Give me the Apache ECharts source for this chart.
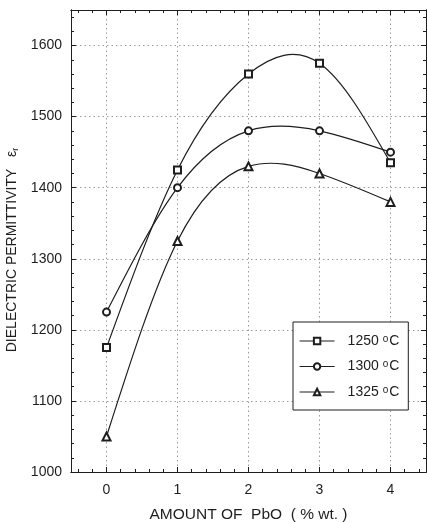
<!DOCTYPE html>
<html>
<head>
<meta charset="utf-8">
<script src="https://cdn.jsdelivr.net/npm/echarts@6/dist/echarts.min.js"></script>
<style>
html,body{margin:0;padding:0;background:#fff;}
#c{width:427px;height:523px;}
</style>
</head>
<body>
<div id="c"></div>
<script>
const pbo = [0, 1, 2, 3, 4];
const eps1250 = [1175, 1425, 1560, 1575, 1435];
const eps1300 = [1225, 1400, 1480, 1480, 1450];
const eps1325 = [1050, 1325, 1430, 1420, 1380];
const seriesNames = ['1250', '1300', '1325'];
const xMajor = [0, 1, 2, 3, 4];
const xMinor = [-0.4, -0.2, 0.2, 0.4, 0.6, 0.8, 1.2, 1.4, 1.6, 1.8, 2.2, 2.4, 2.6, 2.8, 3.2, 3.4, 3.6, 3.8, 4.2, 4.4];
const yMajor = [1000, 1100, 1200, 1300, 1400, 1500, 1600];
const yMinor = [1020, 1040, 1060, 1080, 1120, 1140, 1160, 1180, 1220, 1240, 1260, 1280, 1320, 1340, 1360, 1380, 1420, 1440, 1460, 1480, 1520, 1540, 1560, 1580, 1620, 1640];
const xMin = -0.5, xMax = 4.5, yMin = 1000, yMax = 1650;

const ink = '#1e1e1e';
const font = "'Liberation Sans', Arial, sans-serif";

function xAx(position, values, len, opts) {
  return Object.assign({
    type: 'value', position: position, min: xMin, max: xMax,
    axisLine: { show: true, onZero: false, lineStyle: { color: ink, width: 1 } },
    axisTick: { show: true, inside: true, length: len, customValues: values, lineStyle: { color: ink } },
    axisLabel: { show: false, customValues: values },
    splitLine: { show: false }
  }, opts || {});
}
function yAx(position, values, len, opts) {
  return Object.assign({
    type: 'value', position: position, min: yMin, max: yMax,
    axisLine: { show: true, onZero: false, lineStyle: { color: ink, width: 1 } },
    axisTick: { show: true, inside: true, length: len, customValues: values, lineStyle: { color: ink } },
    axisLabel: { show: false, customValues: values },
    splitLine: { show: false }
  }, opts || {});
}

const xAxes = [
  xAx('bottom', xMajor, 5, {
    axisLabel: { show: true, customValues: xMajor, margin: 11, fontSize: 14, color: ink, fontFamily: font,
      formatter: function (v) { return String(v); } },
    splitLine: { show: true, lineStyle: { color: '#9a9a9a', type: [1.5, 3], width: 1 } },
    name: 'AMOUNT OF  PbO  ( % wt. )', nameLocation: 'middle', nameGap: 35,
    nameTextStyle: { fontSize: 15.5, color: ink, fontFamily: font }
  }),
  xAx('bottom', xMinor, 3),
  xAx('top', xMajor, 5),
  xAx('top', xMinor, 3)
];
const yAxes = [
  yAx('left', yMajor, 5, {
    axisLabel: { show: true, customValues: yMajor, margin: 9, fontSize: 14, color: ink, fontFamily: font,
      formatter: function (v) { return String(v); } },
    splitLine: { show: true, lineStyle: { color: '#9a9a9a', type: [1.5, 3], width: 1 } },
    name: '{a|DIELECTRIC PERMITTIVITY   ε}{s|r}', nameLocation: 'middle', nameGap: 49, nameRotate: 90,
    nameTextStyle: {
      padding: [0, 18, 0, 0],
      rich: {
        a: { fontSize: 14, color: ink, fontFamily: font },
        s: { fontSize: 9, color: ink, fontFamily: font, verticalAlign: 'bottom', padding: [6, 0, 0, 0] }
      }
    }
  }),
  yAx('left', yMinor, 3),
  yAx('right', yMajor, 5),
  yAx('right', yMinor, 3)
];

const symbols = ['emptyRect', 'emptyCircle', 'emptyTriangle'];
const sizes = [7, 7, 8];
const allData = [eps1250, eps1300, eps1325];

// Natural cubic spline through (xs, ys), returned as Bezier segments in data space
function splineSegments(xs, ys) {
  const n = xs.length;
  const h = [];
  for (let i = 0; i < n - 1; i++) h.push(xs[i + 1] - xs[i]);
  const M = new Array(n).fill(0);
  if (n > 2) {
    const a = [], b = [], c = [], d = [];
    for (let i = 1; i < n - 1; i++) {
      a.push(h[i - 1]);
      b.push(2 * (h[i - 1] + h[i]));
      c.push(h[i]);
      d.push(6 * ((ys[i + 1] - ys[i]) / h[i] - (ys[i] - ys[i - 1]) / h[i - 1]));
    }
    const m = b.length;
    for (let i = 1; i < m; i++) {
      const w = a[i] / b[i - 1];
      b[i] -= w * c[i - 1];
      d[i] -= w * d[i - 1];
    }
    const sol = new Array(m);
    sol[m - 1] = d[m - 1] / b[m - 1];
    for (let i = m - 2; i >= 0; i--) sol[i] = (d[i] - c[i] * sol[i + 1]) / b[i];
    for (let i = 0; i < m; i++) M[i + 1] = sol[i];
  }
  const segs = [];
  for (let i = 0; i < n - 1; i++) {
    const hh = h[i];
    const s = (ys[i + 1] - ys[i]) / hh;
    const d0 = s - hh * (2 * M[i] + M[i + 1]) / 6;
    const d1 = s + hh * (M[i] + 2 * M[i + 1]) / 6;
    segs.push({
      p0: [xs[i], ys[i]],
      c1: [xs[i] + hh / 3, ys[i] + d0 * hh / 3],
      c2: [xs[i + 1] - hh / 3, ys[i + 1] - d1 * hh / 3],
      p1: [xs[i + 1], ys[i + 1]]
    });
  }
  return segs;
}

const series = [];
allData.forEach(function (vals, i) {
  // smooth curve drawn through the axis scales
  series.push({
    type: 'custom',
    xAxisIndex: 0, yAxisIndex: 0,
    data: pbo.map(function (x, j) { return [x, vals[j]]; }),
    encode: { x: 0, y: 1 },
    silent: true,
    z: 3,
    renderItem: function (params, api) {
      if (params.dataIndex !== 0) return null;
      const segs = splineSegments(pbo, vals);
      return {
        type: 'group',
        children: segs.map(function (sg) {
          const p0 = api.coord(sg.p0), c1 = api.coord(sg.c1), c2 = api.coord(sg.c2), p1 = api.coord(sg.p1);
          return {
            type: 'bezierCurve',
            shape: { x1: p0[0], y1: p0[1], cpx1: c1[0], cpy1: c1[1], cpx2: c2[0], cpy2: c2[1], x2: p1[0], y2: p1[1] },
            style: { stroke: ink, lineWidth: 1.2, fill: null }
          };
        })
      };
    }
  });
  // markers (and legend entry)
  series.push({
    type: 'line',
    name: seriesNames[i],
    data: pbo.map(function (x, j) { return [x, vals[j]]; }),
    symbol: symbols[i],
    symbolSize: sizes[i],
    showAllSymbol: true,
    lineStyle: { color: ink, width: 1.2, opacity: 0 },
    itemStyle: { color: ink, borderColor: ink, borderWidth: 1.2 },
    xAxisIndex: 0, yAxisIndex: 0,
    z: 5
  });
});

const chart = echarts.init(document.getElementById('c'), null, { renderer: 'canvas' });
chart.setOption({
  backgroundColor: '#ffffff',
  animation: false,
  grid: { left: 71, right: 1, top: 10, bottom: 51, containLabel: false, outerBoundsMode: 'none' },
  xAxis: xAxes,
  yAxis: yAxes,
  legend: {
    orient: 'vertical',
    left: 293, top: 322,
    padding: [12, 9, 11, 6],
    itemWidth: 35, itemHeight: 8, itemGap: 11.5,
    borderColor: ink, borderWidth: 1,
    backgroundColor: '#fff',
    lineStyle: { color: ink, width: 1.2, opacity: 1 },
    formatter: function (n) { return '{t|' + n + ' }{o|o}{t|C}'; },
    textStyle: {
      padding: [0, 0, 0, 8],
      rich: {
        t: { fontSize: 14, lineHeight: 14, color: ink, fontFamily: font },
        o: { fontSize: 10, lineHeight: 14, color: ink, fontFamily: font, verticalAlign: 'top', padding: [0, 1, 3, 0] }
      }
    },
    data: seriesNames
  },
  series: series
});
</script>
</body>
</html>
